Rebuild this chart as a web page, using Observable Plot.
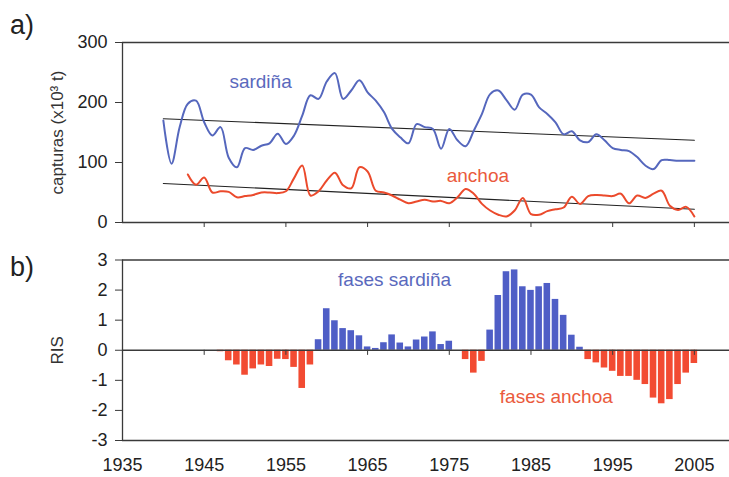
<!DOCTYPE html>
<html><head><meta charset="utf-8">
<script src="https://cdn.jsdelivr.net/npm/d3@7"></script>
<script src="https://cdn.jsdelivr.net/npm/@observablehq/plot@0.6"></script>
<style>
body{margin:0;background:#fff;}
#chart{position:relative;width:729px;height:477px;font-family:"Liberation Sans",Arial,sans-serif;background:#fff;}
.tag{position:absolute;left:10px;font-size:27px;line-height:27px;color:#222;}
svg{display:block}
</style></head><body><div id="chart"></div>
<script>
// ---- data ----
const sardinaYears = d3.range(1940, 2006);
const sardina = [170,98,159,198,203,167,145,159,108,92,
  124,121,128,132,148,131,145,178,212,206,
  235,249,206,220,237,217,203,184,156,142,
  132,164,159,156,123,156,137,127,153,181,
  214,220,204,188,213,213,192,181,167,147,
  152,137,134,147,137,124,121,119,109,95,
  89,104,104,103,103,103];
const anchoaYears = d3.range(1943, 2006);
const anchoa = [80,63,75,50,52,51,42,
  44,46,50,50,49,52,74,95,45,52,
  70,83,62,57,92,85,53,50,45,38,
  32,35,38,35,36,32,42,56,48,31,
  20,13,10,20,41,14,13,19,22,25,
  43,31,44,46,45,44,48,32,45,41,
  48,53,28,21,26,10];
const trendYears = [1940, 2005];
const trendSardina = [173, 137];
const trendAnchoa = [65, 22];
const risYears = d3.range(1947, 2006);
const ris = [-0.05,-0.35,-0.49,-0.83,-0.62,-0.49,-0.54,-0.30,-0.31,-0.57,
  -1.27,-0.49,0.35,1.38,0.98,0.72,0.65,0.48,0.11,0.06,
  0.25,0.51,0.24,0.11,0.34,0.44,0.61,0.19,0.30,0,
  -0.31,-0.76,-0.37,0.67,1.82,2.61,2.67,2.11,1.99,2.11,
  2.22,1.69,1.16,0.50,0.10,-0.31,-0.42,-0.59,-0.70,-0.87,
  -0.87,-1.00,-1.14,-1.59,-1.78,-1.64,-1.14,-0.76,-0.44];
const xTicks = [1935,1945,1955,1965,1975,1985,1995,2005];
const yTicksTop = [0,100,200,300];
const yTicksBot = [-3,-2,-1,0,1,2,3];
const topLabels = [{text:"sardiña", year:1951.9, v:235, c:"sard"},{text:"anchoa", year:1978.5, v:78, c:"anch"}];
const botLabels = [{text:"fases sardiña", year:1968.3, v:2.33, c:"sard"},{text:"fases anchoa", year:1988.1, v:-1.54, c:"anch"}];

// ---- styles ----
const BLUE_LINE = "#5567bd", RED_LINE = "#eb4a2c";
const BLUE_TXT = "#5a69bd", RED_TXT = "#ea5a3c";
const BLUE_BAR = "#4f5ec6", RED_BAR = "#f24b32";
const AX = "#3a3a3a";
const FONT = "Liberation Sans, Arial, sans-serif";
const xDomain = [1935, 2009.3];

const sData = sardinaYears.map((y,i)=>({year:y, v:sardina[i]}));
const aData = anchoaYears.map((y,i)=>({year:y, v:anchoa[i]}));
const tS = trendYears.map((y,i)=>({year:y, v:trendSardina[i]}));
const tA = trendYears.map((y,i)=>({year:y, v:trendAnchoa[i]}));
const rData = risYears.map((y,i)=>({year:y, v:ris[i]}));

const chart = document.getElementById("chart");

const topPlot = Plot.plot({
  width: 729, height: 245,
  marginLeft: 122, marginRight: 0, marginTop: 42, marginBottom: 23,
  style: {fontFamily: FONT, fontSize: "18px", color: "#222", background: "white", overflow: "visible"},
  x: {domain: xDomain},
  y: {domain: [0, 300]},
  marks: [
    Plot.ruleY([0, 300], {stroke: AX, strokeWidth: 1.4}),
    Plot.ruleX([1935], {y1: 0, y2: 300, stroke: AX, strokeWidth: 1.3}),
    Plot.axisY({ticks: yTicksTop, tickSize: 7, tickPadding: 8, label: null, stroke: AX, fontSize: 18, tickFormat: d => String(d)}),
    Plot.axisX({ticks: xTicks.slice(1), tickSize: 5, tickFormat: () => "", label: null, stroke: AX}),
    Plot.line(tS, {x: "year", y: "v", stroke: "#222", strokeWidth: 1.1}),
    Plot.line(tA, {x: "year", y: "v", stroke: "#222", strokeWidth: 1.1}),
    Plot.line(sData, {x: "year", y: "v", stroke: BLUE_LINE, strokeWidth: 2, curve: "catmull-rom"}),
    Plot.line(aData, {x: "year", y: "v", stroke: RED_LINE, strokeWidth: 2, curve: "catmull-rom"}),
    Plot.text(topLabels, {x: "year", y: "v", text: "text", fill: d => d.c === "sard" ? BLUE_TXT : RED_TXT, fontSize: 19}),
    Plot.text(["capturas (x10³ t)"], {frameAnchor: "left", textAnchor: "middle", rotate: -90, dx: -65, fontSize: 17, fill: "#333"})
  ]
});

const botPlot = Plot.plot({
  width: 729, height: 232,
  marginLeft: 122, marginRight: 0, marginTop: 14.5, marginBottom: 37,
  style: {fontFamily: FONT, fontSize: "18px", color: "#222", background: "white", overflow: "visible"},
  x: {domain: xDomain},
  y: {domain: [-3, 3]},
  marks: [
    Plot.rectY(rData, {x1: d => d.year - 0.5, x2: d => d.year + 0.5, y1: 0, y2: "v", fill: d => d.v >= 0 ? BLUE_BAR : RED_BAR, insetLeft: 0.8, insetRight: 0.8}),
    Plot.ruleY([-3, 0, 3], {stroke: AX, strokeWidth: 1.3}),
    Plot.ruleX([1935], {y1: -3, y2: 3, stroke: AX, strokeWidth: 1.3}),
    Plot.ruleX(xTicks.slice(1), {y1: 0, y2: -0.17, stroke: AX}),
    Plot.axisY({ticks: yTicksBot, tickSize: 7, tickPadding: 8, label: null, stroke: AX, fontSize: 18, tickFormat: d => String(d)}),
    Plot.axisX({ticks: xTicks, tickSize: 0, tickPadding: 18, label: null, tickFormat: d => String(d), fontSize: 18}),
    Plot.text(botLabels, {x: "year", y: "v", text: "text", fill: d => d.c === "sard" ? BLUE_TXT : RED_TXT, fontSize: 19}),
    Plot.text(["RIS"], {frameAnchor: "left", textAnchor: "middle", rotate: -90, dx: -65, fontSize: 17, fill: "#333"})
  ]
});

chart.appendChild(topPlot);
chart.appendChild(botPlot);
const a = document.createElement("div"); a.className = "tag"; a.style.top = "12px"; a.textContent = "a)"; chart.appendChild(a);
const b = document.createElement("div"); b.className = "tag"; b.style.top = "254px"; b.textContent = "b)"; chart.appendChild(b);
</script></body></html>
